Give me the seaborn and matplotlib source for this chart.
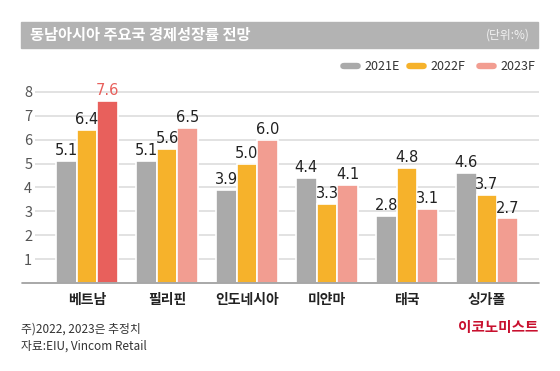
import matplotlib
matplotlib.use('Agg')

import matplotlib.pyplot as plt
import seaborn as sns
import pandas as pd
from matplotlib.patches import FancyBboxPatch, Rectangle

countries = ['베트남', '필리핀', '인도네시아', '미얀마', '태국', '싱가폴']
years = ['2021E', '2022F', '2023F']
growth_2021 = [5.1, 5.1, 3.9, 4.4, 2.8, 4.6]
growth_2022 = [6.4, 5.6, 5.0, 3.3, 4.8, 3.7]
growth_2023 = [7.6, 6.5, 6.0, 4.1, 3.1, 2.7]
y_ticks = [1, 2, 3, 4, 5, 6, 7, 8]

colors = ['#AAAAAA', '#F6B22B', '#F29D91']
highlight = '#E8605C'

df = pd.DataFrame({
    'country': countries * 3,
    'year': [years[0]] * 6 + [years[1]] * 6 + [years[2]] * 6,
    'value': growth_2021 + growth_2022 + growth_2023,
})

sns.set_style('white')
plt.rcParams['font.family'] = ['Noto Sans CJK KR', 'DejaVu Sans']

W, H = 560, 371
fig = plt.figure(figsize=(W / 100, H / 100), dpi=100)

# axes: left 35px, right 539px, bottom at y=283px, 8.3 at top
px_per_unit = 23.9
top_val = 8.3
ax_bottom = H - 283
ax_height = top_val * px_per_unit
ax = fig.add_axes([35 / W, ax_bottom / H, 504 / W, ax_height / H])

sns.barplot(data=df, x='country', y='value', hue='year', order=countries,
            hue_order=years, palette=colors, saturation=1, width=0.78,
            edgecolor='white', linewidth=1.2, legend=False, ax=ax, zorder=3)

ax.set_xlim(-0.65, 5.65)
ax.set_ylim(0, top_val)
ax.set_yticks(y_ticks)
ax.set_yticklabels([str(t) for t in y_ticks], fontsize=10.5, color='#555555')
ax.tick_params(axis='y', length=0, pad=2)
ax.tick_params(axis='x', length=0, pad=7)
ax.set_xticks(range(len(countries)))
ax.set_xticklabels(countries, fontsize=10, fontweight='bold', color='#222222')
ax.set_xlabel('')
ax.set_ylabel('')
for s in ax.spines.values():
    s.set_visible(False)
for t in y_ticks:
    ax.axhline(t, color='#DDDDDD', lw=1.2, zorder=1)
ax.axhline(0, xmin=-13 / 504, xmax=1, color='#999999', lw=1.2, clip_on=False, zorder=4)

# highlight Vietnam 2023 and value labels
for i, cont in enumerate(ax.containers):
    vals = [growth_2021, growth_2022, growth_2023][i]
    for j, bar in enumerate(cont):
        c = '#222222'
        if i == 2 and j == 0:
            bar.set_facecolor(highlight)
            c = highlight
        ax.text(bar.get_x() + bar.get_width() / 2, vals[j] + 0.12, f'{vals[j]:.1f}',
                ha='center', va='bottom', fontsize=10.5, color=c,
                family=['DejaVu Sans'])

# title bar
fig.patches.append(Rectangle((21 / W, 1 - 48 / H), 517 / W, 26 / H,
                             transform=fig.transFigure, color='#B3B3B3', zorder=0))
fig.text(30 / W, 1 - 35 / H, '동남아시아 주요국 경제성장률 전망', fontsize=11,
         fontweight='bold', color='white', va='center', ha='left')
fig.text(530 / W, 1 - 35 / H, '(단위:%)', fontsize=8.5, color='#F2F2F2',
         va='center', ha='right')

# legend
leg_y = 1 - 66 / H
for x0, lab, col in zip([341, 407, 477], years, colors):
    fig.patches.append(FancyBboxPatch((x0 / W, leg_y - 2.5 / H), 19 / W, 5 / H,
                                      boxstyle='round,pad=0,rounding_size=0.006',
                                      transform=fig.transFigure, color=col))
    fig.text((x0 + 23) / W, leg_y, lab, fontsize=9, color='#333333',
             va='center', ha='left')

# footnotes
fig.text(21 / W, 1 - 329 / H, '주)2022, 2023은 추정치', fontsize=8.5,
         color='#333333', va='center', ha='left')
fig.text(21 / W, 1 - 346 / H, '자료:EIU, Vincom Retail', fontsize=8.5,
         color='#333333', va='center', ha='left')
fig.text(538 / W, 1 - 327 / H, '이코노미스트', fontsize=10.5, fontweight='bold',
         color='#C8102E', va='center', ha='right')

fig.savefig('out.png', dpi=100)
plt.close(fig)
